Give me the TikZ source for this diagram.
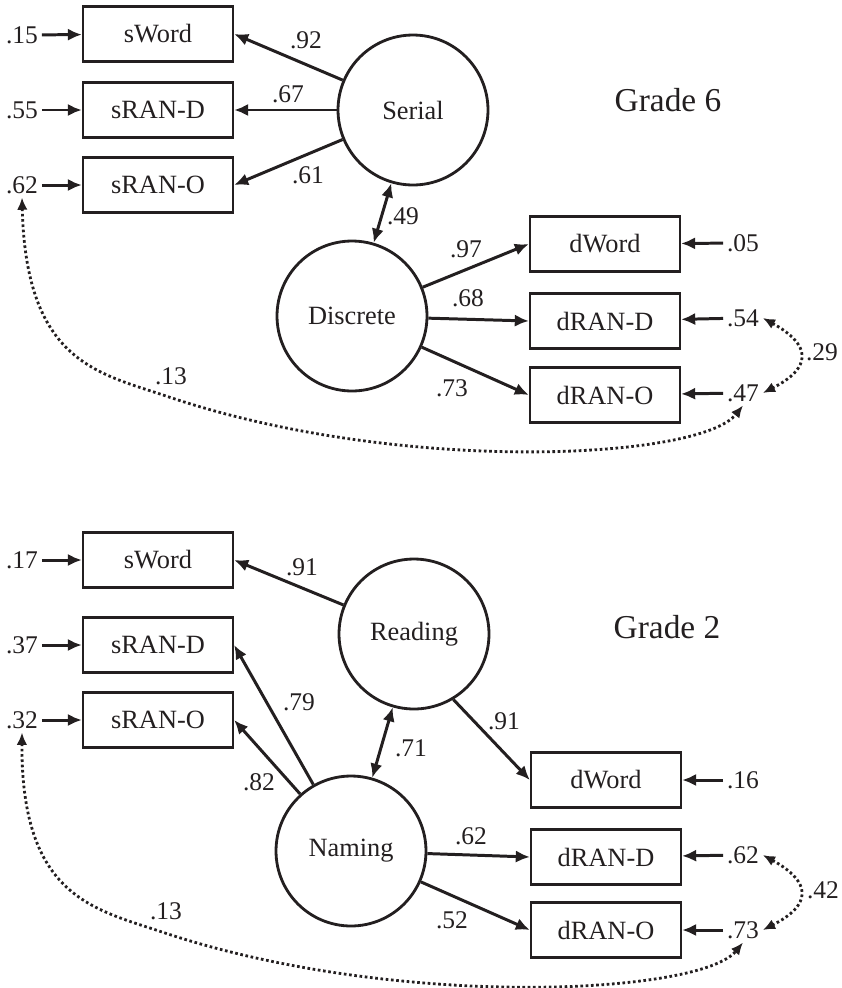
\documentclass[tikz,border=0pt]{standalone}
\usepackage{fontspec}
\setmainfont{Liberation Serif}
\usetikzlibrary{arrows.meta}
\definecolor{ink}{RGB}{35,31,32}

\begin{document}
\begin{tikzpicture}[x=0.02cm, y=-0.02cm, >={Latex[length=8pt,width=7pt]}, color=ink,
  obs/.style={draw, line width=1.3pt, minimum width=3cm, minimum height=1.1cm, font=\fontsize{15}{17}\selectfont},
  lat/.style={draw, circle, line width=1.6pt, minimum size=3cm, inner sep=0pt, font=\fontsize{15}{17}\selectfont},
  num/.style={inner sep=2pt, font=\fontsize{14.5}{16}\selectfont},
  load/.style={->, line width=1.7pt},
  corr/.style={<->, >={Latex[length=7pt,width=6pt]}, line width=1.6pt, dash pattern=on 1.5pt off 1.5pt}]
  \useasboundingbox (0,0) rectangle (842,988);

  % Grade 6
  \node[font=\fontsize{19}{22}\selectfont] (g6) at (668,100) {Grade 6};
  \node[obs] (sW6) at (158,34) {sWord};
  \node[obs] (sD6) at (158,110) {sRAN-D};
  \node[obs] (sO6) at (158,185) {sRAN-O};
  \node[lat] (ser) at (413,110) {Serial};
  \node[lat] (dis) at (352,316) {Discrete};
  \node[obs] (dW6) at (605,244) {dWord};
  \node[obs] (dD6) at (605,321) {dRAN-D};
  \node[obs] (dO6) at (605,395) {dRAN-O};

  \node[num] (e15) at (22,35) {.15};
  \node[num] (e55) at (22,110) {.55};
  \node[num] (e62) at (22,185) {.62};
  \node[num] (e05) at (743,243) {.05};
  \node[num] (e54) at (743,318) {.54};
  \node[num] (e47) at (743,393) {.47};
  \draw[load] (e15) -- (sW6);
  \draw[load] (e55) -- (sD6);
  \draw[load] (e62) -- (sO6);
  \draw[load] (e05) -- (dW6);
  \draw[load] (e54) -- (dD6);
  \draw[load] (e47) -- (dO6);

  \draw[load] (ser) -- (sW6.east);
  \draw[load] (ser) -- (sD6);
  \draw[load] (ser) -- (sO6.east);
  \draw[load, <->] (ser) -- (dis);
  \draw[load] (dis) -- (dW6.west);
  \draw[load] (dis) -- (dD6.west);
  \draw[load] (dis) -- (dO6.west);
  \node[num] at (306,40) {.92};
  \node[num] at (288,94) {.67};
  \node[num] at (308,175) {.61};
  \node[num] at (403,216) {.49};
  \node[num] at (466,249) {.97};
  \node[num] at (468,298) {.68};
  \node[num] at (452,388) {.73};

  \draw[corr] (e54.east) .. controls (812,345) and (812,368) .. (e47.east);
  \node[num] at (822,352) {.29};
  \coordinate (bend6) at (166,396);
  \draw[corr] (e62.south) .. controls (26,362) and (98,373) .. (bend6)
    .. controls (398,475) and (700,460) .. (e47.south);
  \node[num] at (171,376) {.13};

  % Grade 2
  \node[font=\fontsize{19}{22}\selectfont] (g2) at (667,627) {Grade 2};
  \node[obs] (sW2) at (158,560) {sWord};
  \node[obs] (sD2) at (158,645) {sRAN-D};
  \node[obs] (sO2) at (158,720) {sRAN-O};
  \node[lat] (rea) at (414,634) {Reading};
  \node[lat] (nam) at (351,851) {Naming};
  \node[obs] (dW2) at (606,780) {dWord};
  \node[obs] (dD2) at (606,857) {dRAN-D};
  \node[obs] (dO2) at (606,930) {dRAN-O};

  \node[num] (e17) at (22,560) {.17};
  \node[num] (e37) at (22,645) {.37};
  \node[num] (e32) at (22,720) {.32};
  \node[num] (e16) at (743,780) {.16};
  \node[num] (e62b) at (743,855) {.62};
  \node[num] (e73) at (743,930) {.73};
  \draw[load] (e17) -- (sW2);
  \draw[load] (e37) -- (sD2);
  \draw[load] (e32) -- (sO2);
  \draw[load] (e16) -- (dW2);
  \draw[load] (e62b) -- (dD2);
  \draw[load] (e73) -- (dO2);

  \draw[load] (rea) -- (sW2.east);
  \draw[load] (nam) -- (sD2.east);
  \draw[load] (nam) -- (sO2.east);
  \draw[load, <->] (rea) -- (nam);
  \draw[load] (rea.-59) -- (dW2.west);
  \draw[load] (nam) -- (dD2.west);
  \draw[load] (nam) -- (dO2.west);
  \node[num] at (302,567) {.91};
  \node[num] at (299,702) {.79};
  \node[num] at (259,782) {.82};
  \node[num] at (411,748) {.71};
  \node[num] at (504,721) {.91};
  \node[num] at (471,836) {.62};
  \node[num] at (452,920) {.52};

  \draw[corr] (e62b.east) .. controls (812,882) and (812,905) .. (e73.east);
  \node[num] at (823,890) {.42};
  \coordinate (bend2) at (162,932);
  \draw[corr] (e32.south) .. controls (21,897) and (94,909) .. (bend2)
    .. controls (394,1010) and (700,995) .. (e73.south);
  \node[num] at (166,911) {.13};
\end{tikzpicture}
\end{document}
